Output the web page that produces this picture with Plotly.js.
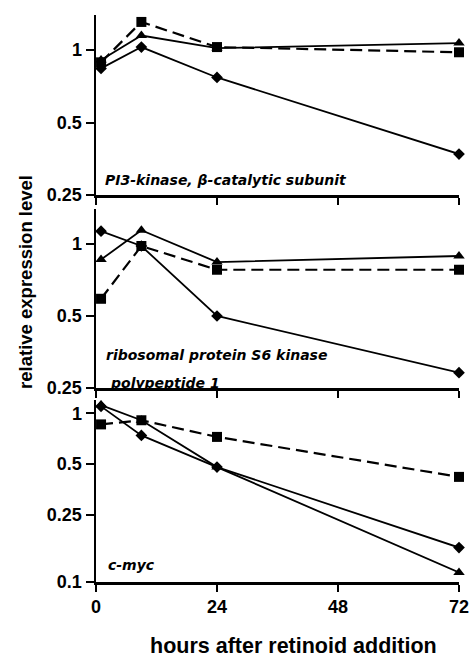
<!DOCTYPE html>
<html><head><meta charset="utf-8">
<script src="https://cdn.plot.ly/plotly-3.0.1.min.js"></script>
<style>html,body{margin:0;padding:0;background:#fff}#chart{width:471px;height:657px}</style>
</head><body><div id="chart"></div>
<script>
const hours = [1, 9, 24, 72];
const xTicks = [0, 24, 48, 72];
const panelLabels = ["PI3-kinase, β-catalytic subunit", "ribosomal protein S6 kinase", "polypeptide 1", "c-myc"];
// Panel 1: PI3-kinase
const pi3Square   = [0.89, 1.31, 1.03, 0.98];
const pi3Triangle = [0.91, 1.15, 1.02, 1.07];
const pi3Diamond  = [0.84, 1.03, 0.77, 0.37];
// Panel 2: ribosomal protein S6 kinase
const s6Square   = [0.59, 0.98, 0.78, 0.78];
const s6Triangle = [0.86, 1.14, 0.84, 0.89];
const s6Diamond  = [1.13, 0.98, 0.50, 0.29];
// Panel 3: c-myc
const mycSquare   = [0.86, 0.91, 0.725, 0.42];
const mycTriangle = [1.12, 0.91, 0.48, 0.114];
const mycDiamond  = [1.10, 0.74, 0.48, 0.16];

const yTicksTop = [0.25, 0.5, 1];
const yTicksBottom = [0.1, 0.25, 0.5, 1];

const FONT = "Liberation Sans, Arial, sans-serif";
const LFONT = "DejaVu Sans, Liberation Sans, sans-serif";
function tr(y, sym, dash, ax, size, w) {
  return {x: hours, y: y, xaxis: 'x' + ax, yaxis: 'y' + ax, type: 'scatter', mode: 'lines+markers',
    cliponaxis: false, showlegend: false,
    line: {color: '#000', width: w, dash: dash},
    marker: {symbol: sym, color: '#000', size: size}};
}
const DASH = '12px,6px';
const data = [
  tr(pi3Diamond, 'diamond', 'solid', '', 9, 1.8), tr(pi3Triangle, 'triangle-up', 'solid', '', 10, 1.8), tr(pi3Square, 'square', DASH, '', 10, 2.2),
  tr(s6Diamond, 'diamond', 'solid', 2, 9, 1.8), tr(s6Triangle, 'triangle-up', 'solid', 2, 10, 1.8), tr(s6Square, 'square', DASH, 2, 10, 2.2),
  tr(mycDiamond, 'diamond', 'solid', 3, 9, 1.8), tr(mycTriangle, 'triangle-up', 'solid', 3, 10, 1.8), tr(mycSquare, 'square', DASH, 3, 10, 2.2)
];

function xax(anchor, showLabels) {
  return {anchor: anchor, range: [0, 72], tickvals: xTicks, ticktext: xTicks.map(String),
    showticklabels: showLabels, ticks: 'outside', ticklen: 7, tickwidth: 2, tickcolor: '#000',
    showline: true, linecolor: '#000', linewidth: 2.5, showgrid: false, zeroline: false,
    tickfont: {family: FONT, size: 18, weight: 'bold', color: '#000'}};
}
function yax(anchor, domain, lo, hi, vals) {
  return {anchor: anchor, domain: domain, type: 'log', range: [Math.log10(lo), Math.log10(hi)],
    tickvals: vals, ticktext: vals.map(String), ticks: 'outside', ticklen: 8, tickwidth: 2, tickcolor: '#000',
    showline: true, linecolor: '#000', linewidth: 2.5, showgrid: false, zeroline: false,
    tickfont: {family: FONT, size: 18, weight: 'bold', color: '#000'}};
}
const labelFont = {family: LFONT, size: 14, weight: 'bold', style: 'italic', color: '#000'};
const layout = {
  width: 471, height: 657, margin: {l: 96, r: 12, t: 15, b: 75},
  paper_bgcolor: '#fff', plot_bgcolor: '#fff', showlegend: false,
  xaxis: xax('y', false), xaxis2: xax('y2', false), xaxis3: xax('y3', true),
  yaxis: yax('x', [0.6825, 1.0], 0.25, 1.4, yTicksTop),
  yaxis2: yax('x2', [0.342, 0.658], 0.25, 1.4, yTicksTop),
  yaxis3: yax('x3', [0, 0.321], 0.1, 1.2, yTicksBottom),
  annotations: [
    {text: panelLabels[0], xref: 'x domain', yref: 'y domain', x: 0.02, y: 0.083, xanchor: 'left', yanchor: 'middle', showarrow: false, font: labelFont},
    {text: panelLabels[1], xref: 'x2 domain', yref: 'y2 domain', x: 0.022, y: 0.184, xanchor: 'left', yanchor: 'middle', showarrow: false, font: labelFont},
    {text: panelLabels[2], xref: 'x2 domain', yref: 'y2 domain', x: 0.033, y: 0.03, xanchor: 'left', yanchor: 'middle', showarrow: false, font: labelFont},
    {text: panelLabels[3], xref: 'x3 domain', yref: 'y3 domain', x: 0.028, y: 0.093, xanchor: 'left', yanchor: 'middle', showarrow: false, font: labelFont},
    {text: 'relative expression level', xref: 'paper', yref: 'paper', x: -0.196, y: 0.529, textangle: -90, xanchor: 'center', yanchor: 'middle', showarrow: false,
     font: {family: FONT, size: 18.5, weight: 'bold', color: '#000'}},
    {text: 'hours after retinoid addition', xref: 'paper', yref: 'paper', x: 0.545, y: -0.113, xanchor: 'center', yanchor: 'middle', showarrow: false,
     font: {family: FONT, size: 21.5, weight: 'bold', color: '#000'}}
  ]
};
Plotly.newPlot('chart', data, layout, {displayModeBar: false, staticPlot: true});
</script></body></html>
